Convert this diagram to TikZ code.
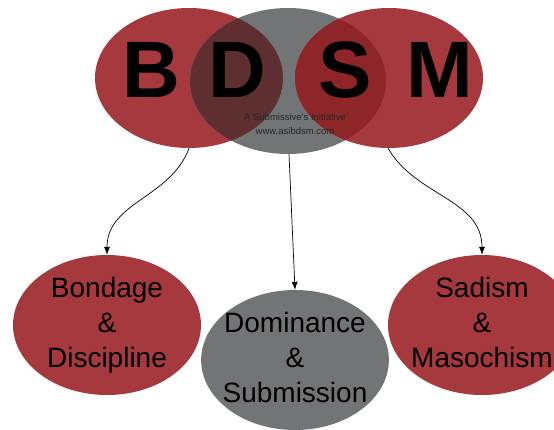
\documentclass[tikz,border=0pt]{standalone}
\usepackage{fontspec}
\setmainfont{Liberation Sans}
\usetikzlibrary{arrows.meta,shapes.geometric}
\definecolor{bdred}{HTML}{A6393D}
\definecolor{bdgrey}{HTML}{727575}
\definecolor{bddark}{HTML}{5E2E30}
\definecolor{bdwine}{HTML}{8E2629}
\tikzset{blob/.style={ellipse,inner sep=-6pt}}
\tikzset{bigletter/.style={font=\fontsize{80}{80}\selectfont\bfseries}}
\tikzset{term/.style={blob,align=center,minimum width=188,minimum height=140,font=\fontsize{28}{35}\selectfont}}
\tikzset{link/.style={-{Latex[length=8pt,width=6pt]},black,line width=0.7pt}}

\begin{document}
\begin{tikzpicture}[x=1pt,y=-1pt]
    \useasboundingbox (0,0) rectangle (554,429);
    % top three
    \fill [bdred] (189,78) ellipse (94 and 70);
    \fill [bdgrey] (288,81) ellipse (98 and 73);
    \fill [bdred] (389,78) ellipse (94 and 70);
    \begin{scope}
        \clip (189,78) ellipse (94 and 70);
        \fill [bddark] (288,81) ellipse (98 and 73);
    \end{scope}
    \begin{scope}
        \clip (389,78) ellipse (94 and 70);
        \fill [bdwine] (288,81) ellipse (98 and 73);
    \end{scope}
    \node [blob,minimum width=188,minimum height=140] at (189,78) (bTop) {};
    \node [blob,minimum width=196,minimum height=146] at (289,81) (dTop) {};
    \node [blob,minimum width=188,minimum height=140] at (388,78) (sTop) {};
    \node [bigletter,anchor=base] at (151,97) (B) {B};
    \node [bigletter,anchor=base] at (237,97) (D) {D};
    \node [bigletter,anchor=base] at (345,97) (S) {S};
    \node [bigletter,anchor=base] at (440,97) (M) {M};
    \node [align=center,text=black!85,font=\fontsize{9.5}{13.5}\selectfont] at (295,124) (tag) {A Submissive's Initiative\\www.asibdsm.com};
    % bottom three
    \node [term,fill=bdred] at (107,325) (bd) {Bondage\\\&\\Discipline};
    \node [term,fill=bdgrey,minimum width=186] at (295,360) (ds) {Dominance\\\&\\Submission\vphantom{g}};
    \node [term,fill=bdred] at (482,325) (sm) {Sadism\\\&\\Masochism\vphantom{g}};
    \draw [link] (bTop.south) to [out=250,in=90] (bd.north);
    \draw [link] (dTop.south) -- (ds.north);
    \draw [link] (sTop.south) to [out=-60,in=90] (sm.north);
\end{tikzpicture}
\end{document}
